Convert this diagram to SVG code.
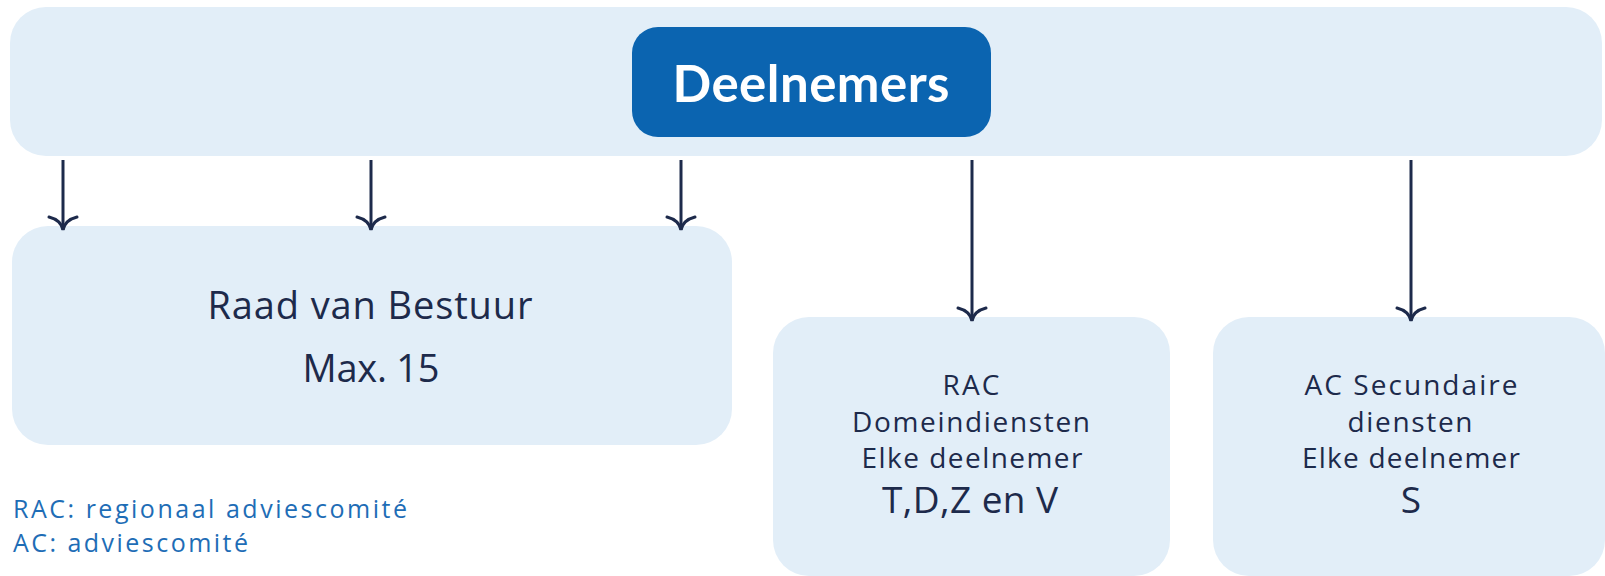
<svg xmlns="http://www.w3.org/2000/svg" width="1605" height="576" viewBox="0 0 1605 576">
<defs>
<style>
.box{fill:#e2eef8}
.t{font-family:"Open Sans","Noto Sans",sans-serif;fill:#1d2a4b;text-anchor:middle}
.leg{font-family:"Open Sans","Noto Sans",sans-serif;fill:#1e6db6;font-size:25px}
.arr{stroke:#1d2a4b;stroke-width:3;fill:none}
</style>
<marker id="ah" markerWidth="20" markerHeight="34" refX="0" refY="0" orient="auto" markerUnits="userSpaceOnUse" viewBox="-17 -17 20 34">
<path d="M-13,-14 Q-10,-2 0,0 Q-10,2 -13,14" fill="none" stroke="#1d2a4b" stroke-width="3" stroke-linecap="round"/>
</marker>
</defs>
<rect width="1605" height="576" fill="#ffffff"/>
<g id="top">
<rect class="box" x="10" y="7" width="1592" height="149" rx="36"/>
</g>
<g id="deelnemers">
<rect x="632" y="27" width="359" height="110" rx="26" fill="#0b64b0"/>
<text x="811" y="102" font-family="Lato,'Noto Sans',sans-serif" font-weight="bold" font-size="51" fill="#ffffff" text-anchor="middle" textLength="277" lengthAdjust="spacing">Deelnemers</text>
</g>
<g id="raad">
<rect class="box" x="12" y="226" width="720" height="219" rx="36"/>
<text class="t" x="370" y="319" font-size="38" textLength="325" lengthAdjust="spacing">Raad van Bestuur</text>
<text class="t" x="371" y="382" font-size="38" textLength="137" lengthAdjust="spacing">Max. 15</text>
</g>
<g id="rac">
<rect class="box" x="773" y="317" width="397" height="259" rx="36"/>
<text class="t" x="971" y="395" font-size="28" textLength="57" lengthAdjust="spacing">RAC</text>
<text class="t" x="971" y="432" font-size="28" textLength="238" lengthAdjust="spacing">Domeindiensten</text>
<text class="t" x="972" y="468" font-size="28" textLength="221" lengthAdjust="spacing">Elke deelnemer</text>
<text class="t" x="970" y="513" font-size="37" textLength="176" lengthAdjust="spacing">T,D,Z en V</text>
</g>
<g id="ac">
<rect class="box" x="1213" y="317" width="392" height="259" rx="36"/>
<text class="t" x="1411" y="395" font-size="28" textLength="213" lengthAdjust="spacing">AC Secundaire</text>
<text class="t" x="1410" y="432" font-size="28" textLength="125" lengthAdjust="spacing">diensten</text>
<text class="t" x="1411" y="468" font-size="28" textLength="218" lengthAdjust="spacing">Elke deelnemer</text>
<text class="t" x="1411" y="513" font-size="37">S</text>
</g>
<g id="legend">
<text class="leg" x="13" y="518" textLength="394" lengthAdjust="spacing">RAC: regionaal adviescomité</text>
<text class="leg" x="13" y="552" textLength="235" lengthAdjust="spacing">AC: adviescomité</text>
</g>
<g id="connectors">
<line class="arr" x1="63" y1="160" x2="63" y2="230" marker-end="url(#ah)"/>
<line class="arr" x1="371" y1="160" x2="371" y2="230" marker-end="url(#ah)"/>
<line class="arr" x1="681" y1="160" x2="681" y2="230" marker-end="url(#ah)"/>
<line class="arr" x1="972" y1="160" x2="972" y2="321" marker-end="url(#ah)"/>
<line class="arr" x1="1411" y1="160" x2="1411" y2="321" marker-end="url(#ah)"/>
</g>
</svg>
